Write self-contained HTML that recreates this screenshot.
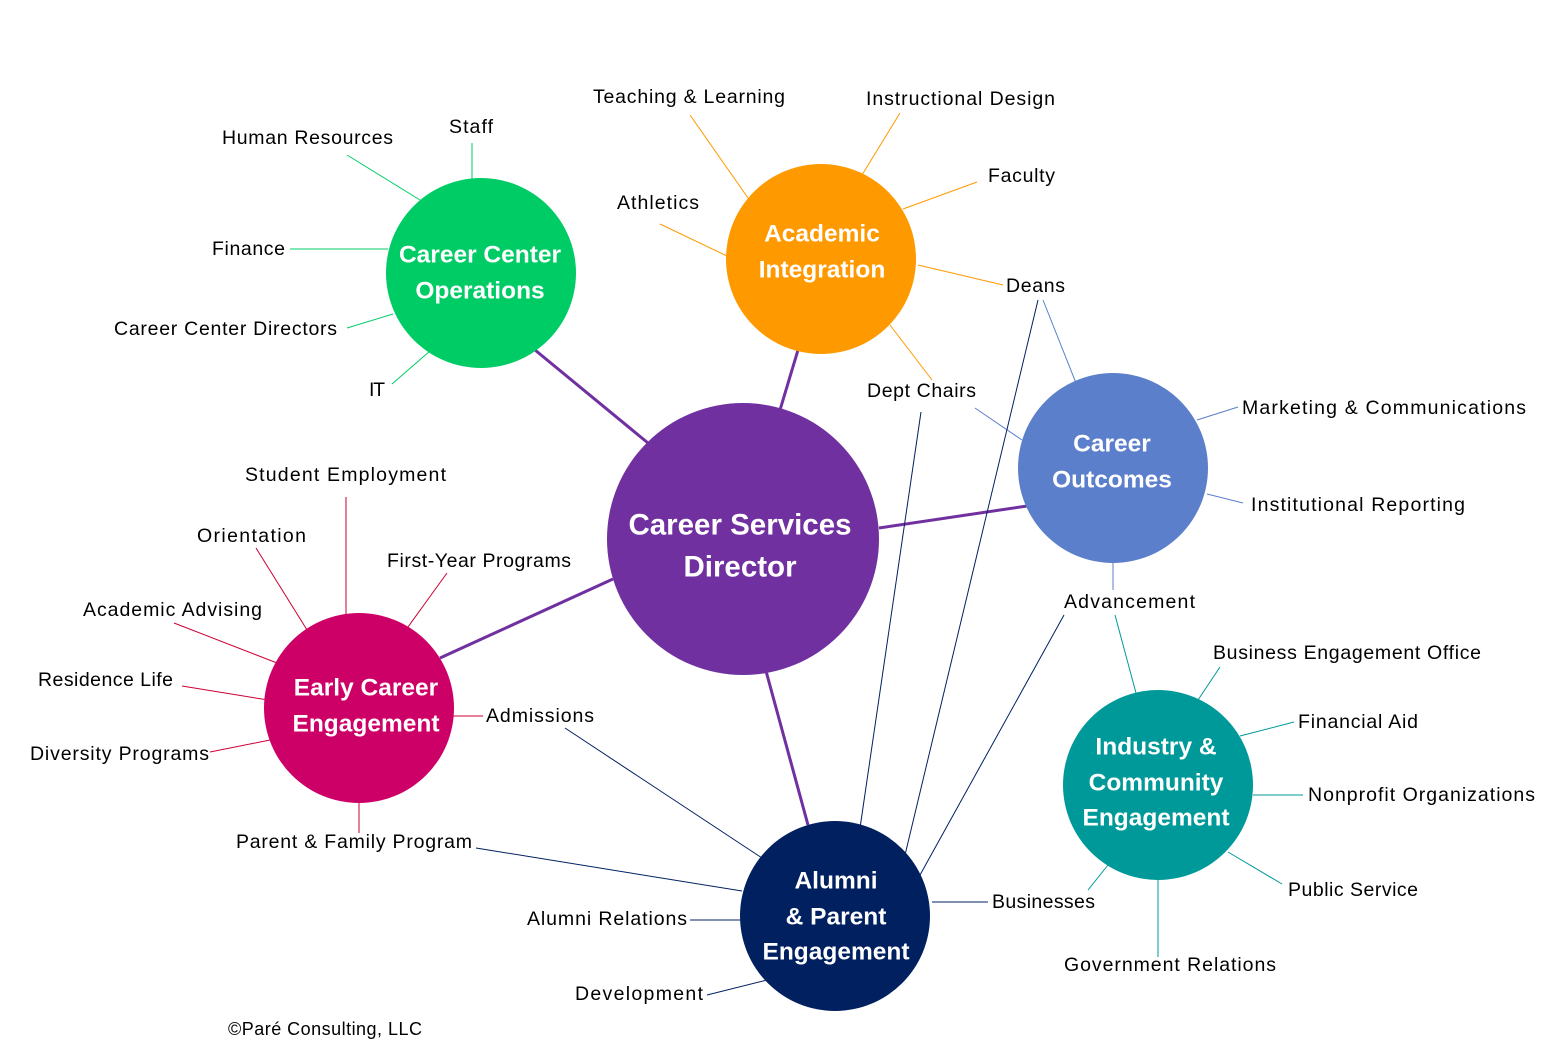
<!DOCTYPE html>
<html><head><meta charset="utf-8"><style>
html,body{margin:0;padding:0;background:#fff}
svg{display:block}
text{font-family:"Liberation Sans",Arial,sans-serif}
.l{font-size:19.5px;fill:#000;dominant-baseline:central}
.c{font-size:24.5px;font-weight:bold;fill:#fff;text-anchor:middle;dominant-baseline:central}
</style></head><body>
<svg width="1565" height="1053" viewBox="0 0 1565 1053" xmlns="http://www.w3.org/2000/svg">
<g stroke="#7030A0" stroke-width="3">
<line x1="535" y1="350" x2="648" y2="443"/>
<line x1="798" y1="350" x2="780" y2="410"/>
<line x1="879" y1="528" x2="1027" y2="506"/>
<line x1="440" y1="658" x2="613" y2="579"/>
<line x1="766" y1="671" x2="808" y2="825"/>
</g>
<g stroke="#00CC66" stroke-width="1">
<line x1="472" y1="143" x2="472" y2="180"/>
<line x1="347" y1="155" x2="420" y2="200"/>
<line x1="290" y1="249" x2="388" y2="249"/>
<line x1="347" y1="328" x2="393" y2="314"/>
<line x1="392" y1="384" x2="430" y2="351"/>
</g>
<g stroke="#FF9900" stroke-width="1">
<line x1="690" y1="115" x2="748" y2="198"/>
<line x1="900" y1="113" x2="862" y2="175"/>
<line x1="977" y1="182" x2="903" y2="209"/>
<line x1="660" y1="224" x2="727" y2="256"/>
<line x1="918" y1="265" x2="1003" y2="285"/>
<line x1="890" y1="325" x2="932" y2="380"/>
</g>
<g stroke="#5B7FCB" stroke-width="1">
<line x1="1043" y1="300" x2="1076" y2="383"/>
<line x1="975" y1="408" x2="1022" y2="440"/>
<line x1="1197" y1="420" x2="1238" y2="407"/>
<line x1="1207" y1="494" x2="1243" y2="503"/>
<line x1="1113" y1="563" x2="1113" y2="590"/>
</g>
<g stroke="#009999" stroke-width="1">
<line x1="1115" y1="615" x2="1136" y2="693"/>
<line x1="1198" y1="700" x2="1220" y2="667"/>
<line x1="1240" y1="736" x2="1294" y2="722"/>
<line x1="1253" y1="795" x2="1303" y2="795"/>
<line x1="1228" y1="852" x2="1282" y2="884"/>
<line x1="1158" y1="880" x2="1158" y2="957"/>
<line x1="1088" y1="890" x2="1108" y2="865"/>
</g>
<g stroke="#CC0033" stroke-width="1">
<line x1="346" y1="497" x2="346" y2="632"/>
<line x1="256" y1="548" x2="327" y2="662"/>
<line x1="447" y1="573" x2="387" y2="656"/>
<line x1="174" y1="623" x2="290" y2="668"/>
<line x1="182" y1="686" x2="268" y2="700"/>
<line x1="210" y1="752" x2="270" y2="740"/>
<line x1="452" y1="716" x2="483" y2="716"/>
<line x1="359" y1="803" x2="359" y2="833"/>
</g>
<g stroke="#002060" stroke-width="1">
<line x1="565" y1="728" x2="762" y2="858"/>
<line x1="476" y1="848" x2="742" y2="891"/>
<line x1="690" y1="920" x2="740" y2="920"/>
<line x1="707" y1="995" x2="767" y2="980"/>
<line x1="932" y1="902" x2="988" y2="902"/>
<line x1="921" y1="412" x2="860" y2="828"/>
<line x1="1038" y1="300" x2="905" y2="855"/>
<line x1="1064" y1="615" x2="920" y2="875"/>
</g>
<circle cx="743" cy="539" r="136" fill="#7030A0"/>
<circle cx="481" cy="273" r="95" fill="#00CC66"/>
<circle cx="821" cy="259" r="95" fill="#FF9900"/>
<circle cx="1113" cy="468" r="95" fill="#5B7FCB"/>
<circle cx="359" cy="708" r="95" fill="#CC0066"/>
<circle cx="835" cy="916" r="95" fill="#002060"/>
<circle cx="1158" cy="785" r="95" fill="#009999"/>
<text class="c" x="740" y="525" style="font-size:29.5px">Career Services</text>
<text class="c" x="740" y="567" style="font-size:29.5px">Director</text>
<text class="c" x="480" y="255">Career Center</text>
<text class="c" x="480" y="291">Operations</text>
<text class="c" x="822" y="234">Academic</text>
<text class="c" x="822" y="270">Integration</text>
<text class="c" x="1112" y="444">Career</text>
<text class="c" x="1112" y="480">Outcomes</text>
<text class="c" x="366" y="688">Early Career</text>
<text class="c" x="366" y="724">Engagement</text>
<text class="c" x="836" y="881">Alumni</text>
<text class="c" x="836" y="917">&amp; Parent</text>
<text class="c" x="836" y="952">Engagement</text>
<text class="c" x="1156" y="747">Industry &amp;</text>
<text class="c" x="1156" y="783">Community</text>
<text class="c" x="1156" y="818">Engagement</text>
<g class="lab">
<text class="l" x="449" y="127" textLength="44">Staff</text>
<text class="l" x="222" y="138" textLength="171">Human Resources</text>
<text class="l" x="212" y="249" textLength="73">Finance</text>
<text class="l" x="114" y="329" textLength="223">Career Center Directors</text>
<text class="l" x="369" y="390" textLength="16">IT</text>
<text class="l" x="593" y="97" textLength="192">Teaching &amp; Learning</text>
<text class="l" x="866" y="99" textLength="189">Instructional Design</text>
<text class="l" x="988" y="176" textLength="67">Faculty</text>
<text class="l" x="617" y="203" textLength="82">Athletics</text>
<text class="l" x="1006" y="286" textLength="59">Deans</text>
<text class="l" x="867" y="391" textLength="109">Dept Chairs</text>
<text class="l" x="1242" y="408" textLength="284">Marketing &amp; Communications</text>
<text class="l" x="1251" y="505" textLength="214">Institutional Reporting</text>
<text class="l" x="1064" y="602" textLength="131">Advancement</text>
<text class="l" x="1213" y="653" textLength="268">Business Engagement Office</text>
<text class="l" x="1298" y="722" textLength="120">Financial Aid</text>
<text class="l" x="1308" y="795" textLength="227">Nonprofit Organizations</text>
<text class="l" x="1288" y="890" textLength="130">Public Service</text>
<text class="l" x="1064" y="965" textLength="212">Government Relations</text>
<text class="l" x="992" y="902" textLength="103">Businesses</text>
<text class="l" x="245" y="475" textLength="201">Student Employment</text>
<text class="l" x="197" y="536" textLength="109">Orientation</text>
<text class="l" x="387" y="561" textLength="184">First-Year Programs</text>
<text class="l" x="83" y="610" textLength="179">Academic Advising</text>
<text class="l" x="38" y="680" textLength="135">Residence Life</text>
<text class="l" x="30" y="754" textLength="179">Diversity Programs</text>
<text class="l" x="486" y="716" textLength="108">Admissions</text>
<text class="l" x="236" y="842" textLength="236">Parent &amp; Family Program</text>
<text class="l" x="527" y="919" textLength="160">Alumni Relations</text>
<text class="l" x="575" y="994" textLength="128">Development</text>
<text class="l" x="228" y="1029" textLength="194" style="font-size:18px">©Paré Consulting, LLC</text>
</g>
</svg>
</body></html>
